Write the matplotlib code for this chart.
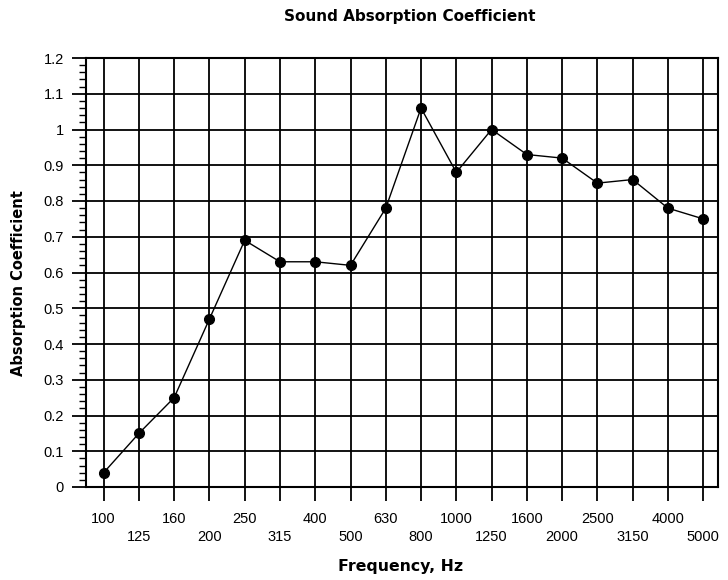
import matplotlib
matplotlib.use("Agg")
import matplotlib.pyplot as plt
from matplotlib.ticker import MultipleLocator

plt.rcParams['font.family'] = ['Liberation Sans', 'DejaVu Sans']

freqs = ['100', '125', '160', '200', '250', '315', '400', '500', '630', '800',
         '1000', '1250', '1600', '2000', '2500', '3150', '4000', '5000']
absorption = [0.04, 0.15, 0.25, 0.47, 0.69, 0.63, 0.63, 0.62, 0.78, 1.06,
              0.88, 1.00, 0.93, 0.92, 0.85, 0.86, 0.78, 0.75]

fig = plt.figure(figsize=(7.28, 5.8), dpi=100)
ax = fig.add_axes([86/728, 1 - 487/580, 632/728, 429/580])

x = list(range(len(freqs)))
ax.plot(x, absorption, color='black', lw=1.0, marker='o', ms=7, zorder=5)

ax.set_xlim(-0.5, len(freqs) - 0.58)
ax.set_ylim(0, 1.2)
ax.set_xticks(x)
labels = [f if i % 2 == 0 else '\n' + f for i, f in enumerate(freqs)]
ax.set_xticklabels(labels, fontsize=10.5, linespacing=1.35)
ax.yaxis.set_major_locator(MultipleLocator(0.1))
ax.yaxis.set_minor_locator(MultipleLocator(0.02))
ax.set_yticklabels(['0' if abs(v) < 1e-9 else ('1' if abs(v - 1) < 1e-9 else f'{v:.1f}')
                    for v in ax.get_yticks()], fontsize=10.5)
ax.set_ylim(0, 1.2)

ax.grid(True, which='major', color='black', lw=1.3)
ax.tick_params(axis='both', which='major', direction='out', length=10, width=1.3, color='black', pad=6)
ax.tick_params(axis='y', which='minor', direction='out', length=5, width=1.0)
ax.tick_params(axis='x', which='major', pad=8)
for s in ax.spines.values():
    s.set_linewidth(1.5)

lab_font = ['DejaVu Sans']
fig.text((274 + 545) / 2 / 728, 1 - 16 / 580, 'Sound Absorption Coefficient',
         fontsize=11, fontweight='bold', family=lab_font, ha='center', va='center')
fig.text(401 / 728, 1 - 567 / 580, 'Frequency, Hz',
         fontsize=11.3, fontweight='bold', family=lab_font, ha='center', va='center')
fig.text(19 / 728, 1 - 283 / 580, 'Absorption Coefficient', rotation=90,
         fontsize=10.5, fontweight='bold', family=lab_font, ha='center', va='center')

fig.savefig('out.png', dpi=100)
